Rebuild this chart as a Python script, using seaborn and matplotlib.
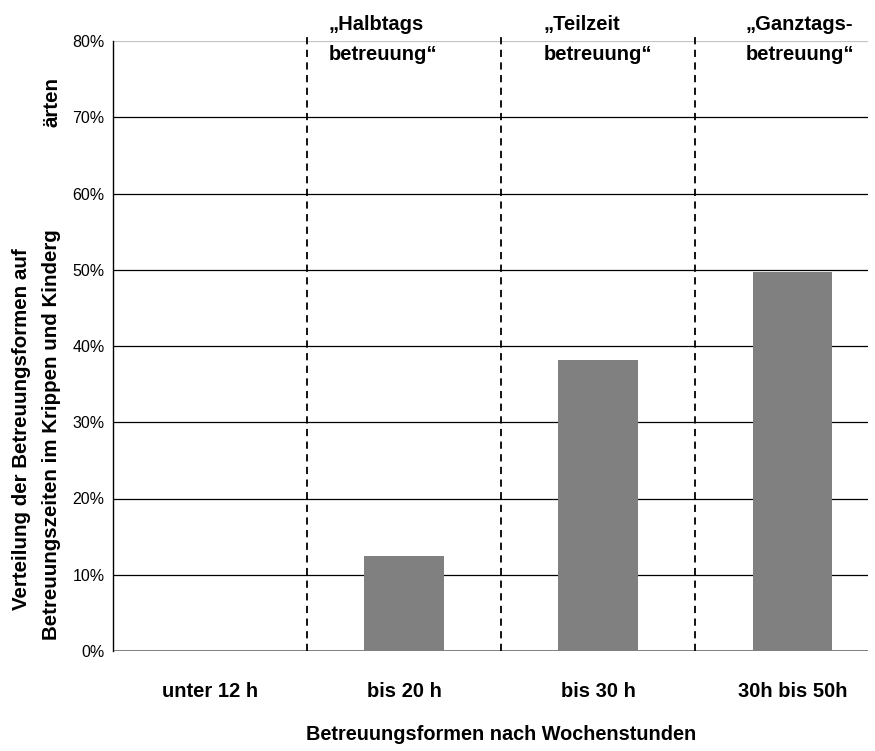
import matplotlib
matplotlib.use("Agg")
import matplotlib.pyplot as plt
import matplotlib.ticker as mtick
import seaborn as sns

# data
categories = ["unter 12 h", "bis 20 h", "bis 30 h", "30h bis 50h"]
shares = [0.0, 0.125, 0.382, 0.497]
group_labels = ["\u201eHalbtags\nbetreuung\u201c", "\u201eTeilzeit\nbetreuung\u201c", "\u201eGanztags-\nbetreuung\u201c"]
group_label_x = [329, 544, 746]  # pixel positions of the group headers
yticks = [0, 0.1, 0.2, 0.3, 0.4, 0.5, 0.6, 0.7, 0.8]

sns.set_style("white")
plt.rcParams['font.family'] = ['Liberation Sans', 'DejaVu Sans']
plt.rcParams['text.color'] = 'black'
plt.rcParams['xtick.color'] = 'black'
plt.rcParams['ytick.color'] = 'black'

W, H = 875, 751
fig = plt.figure(figsize=(W / 100, H / 100), dpi=100)
ax = fig.add_axes([113 / W, 1 - 651 / H, (868 - 113) / W, (651 - 41) / H])

sns.barplot(x=categories, y=shares, color='#808080', saturation=1, width=0.41,
            linewidth=0, ax=ax)

ax.set_xlim(-0.5, 3.39)
ax.set_ylim(0, 0.8)
ax.set_yticks(yticks)
ax.yaxis.set_major_formatter(mtick.PercentFormatter(1.0, decimals=0))

# grid
ax.set_axisbelow(True)
ax.grid(axis='y', color='black', lw=0.9)
ax.grid(axis='x', visible=False)
gl = ax.get_ygridlines()
gl[-1].set_color('#c4c4c4')
gl[0].set_color('#808080')
gl[0].set_linewidth(1.4)

for s in ['top', 'right', 'bottom']:
    ax.spines[s].set_visible(False)
ax.spines['left'].set_color('black')
ax.spines['left'].set_linewidth(1.0)

ax.tick_params(axis='y', direction='out', length=5, width=1, color='black',
               labelsize=11.5, pad=1, labelcolor='black')
ax.tick_params(axis='x', length=0, labelsize=14.5, pad=22, labelcolor='black')
for t in ax.get_xticklabels():
    t.set_fontweight('bold')
ax.set_xticks([-0.5], minor=True)
ax.tick_params(axis='x', which='minor', direction='out', length=5, width=1, color='black')

# dashed separators between care types
for xs in [0.5, 1.5, 2.5]:
    ax.plot([xs, xs], [0, 0.805], color='black', lw=1.3, ls=(0, (4, 3)), clip_on=False)

ax.set_xlabel("")
ax.set_ylabel("")

# group headers
for lab, px in zip(group_labels, group_label_x):
    fig.text(px / W, 1 - 15 / H, lab, ha='left', va='top', fontsize=14.5,
             fontweight='bold', linespacing=1.75)

# axis titles
fig.text(501 / W, 1 - 735 / H, "Betreuungsformen nach Wochenstunden", ha='center',
         va='center', fontsize=14.3, fontweight='bold')
fig.text(22 / W, 1 - 610 / H, "Verteilung der Betreuungsformen auf", rotation=90,
         ha='center', va='bottom', fontsize=14.8, fontweight='bold')
fig.text(52 / W, 1 - 640 / H, "Betreuungszeiten im Krippen und Kinderg", rotation=90,
         ha='center', va='bottom', fontsize=14.8, fontweight='bold')
fig.text(52 / W, 1 - 127 / H, "\u00e4rten", rotation=90,
         ha='center', va='bottom', fontsize=14.8, fontweight='bold')

fig.savefig("out.png", dpi=100)
